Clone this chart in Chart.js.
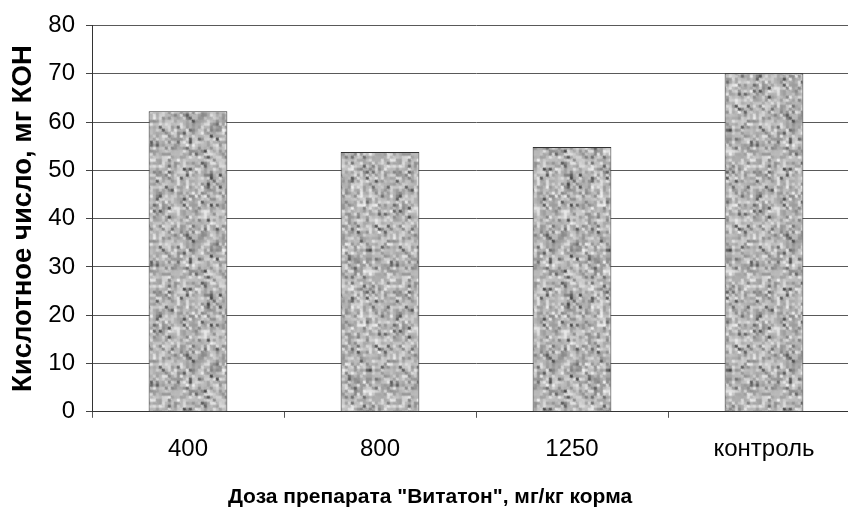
<!DOCTYPE html>
<html>
<head>
<meta charset="utf-8">
<script src="https://cdn.jsdelivr.net/npm/chart.js@4/dist/chart.umd.min.js"></script>
<style>
  html, body { margin: 0; padding: 0; background: #fff; overflow: hidden; }
  #wrap { width: 870px; height: 512px; position: relative; }
</style>
</head>
<body>
<div id="wrap"><canvas id="c" width="870" height="512"></canvas></div>
<script>
// Acid number of the fat by dose of the preparation
const categories = ['400', '800', '1250', 'контроль'];
const acidNumber = [62.2, 53.8, 54.8, 70.1];
const yTicks = [0, 10, 20, 30, 40, 50, 60, 70, 80];
const yTitle = 'Кислотное число, мг КОН';
const xTitle = 'Доза препарата "Витатон", мг/кг корма';

// Grainy grey fill for the bars (seeded so every render is identical)
function grainPattern(ctx) {
  const size = 120, cell = 3;
  let a = 20240611;
  const rnd = () => {
    a |= 0; a = (a + 0x6D2B79F5) | 0;
    let t = Math.imul(a ^ (a >>> 15), 1 | a);
    t = (t + Math.imul(t ^ (t >>> 7), 61 | t)) ^ t;
    return ((t ^ (t >>> 14)) >>> 0) / 4294967296;
  };
  const off = document.createElement('canvas');
  off.width = size; off.height = size;
  const g = off.getContext('2d');
  for (let y = 0; y < size; y += cell) {
    for (let x = 0; x < size; x += cell) {
      const r = (rnd() + rnd()) / 2;
      let v = Math.round(125 + r * 120);
      if (rnd() < 0.05) v = 70 + Math.round(rnd() * 45);
      v = Math.min(240, v);
      g.fillStyle = `rgb(${v},${v},${v})`;
      g.fillRect(x, y, cell, cell);
    }
  }
  // soften the grain a little, wrapping around the tile edges
  const soft = document.createElement('canvas');
  soft.width = size; soft.height = size;
  const sg = soft.getContext('2d');
  sg.drawImage(off, 0, 0);
  sg.globalAlpha = 0.3;
  for (const [dx, dy] of [[1, 1], [-1, 0], [0, -1]]) {
    for (const ox of [0, size, -size]) {
      for (const oy of [0, size, -size]) sg.drawImage(off, dx + ox, dy + oy);
    }
  }
  return ctx.createPattern(soft, 'repeat');
}

const canvas = document.getElementById('c');
const ctx = canvas.getContext('2d');
const FONT = "'Liberation Sans', Arial, sans-serif";

new Chart(ctx, {
  type: 'bar',
  data: {
    labels: categories,
    datasets: [{
      data: acidNumber,
      backgroundColor: grainPattern(ctx),
      borderColor: '#333',
      borderWidth: 1,
      borderSkipped: 'bottom',
      barPercentage: 0.41,
      categoryPercentage: 1.0
    }]
  },
  options: {
    responsive: false,
    animation: false,
    layout: { padding: { top: 18, right: 10, left: 0, bottom: 2 } },
    plugins: {
      legend: { display: false },
      tooltip: { enabled: false },
      title: {
        display: true,
        position: 'bottom',
        text: xTitle,
        color: '#000',
        font: { family: FONT, size: 21, weight: 'bold' },
        padding: { top: 15, bottom: 0 }
      }
    },
    scales: {
      x: {
        offset: true,
        afterFit: (scale) => { scale.height = 58; },
        grid: { offset: true, drawOnChartArea: false, tickLength: 6, color: '#555', tickColor: '#555' },
        border: { color: '#333', width: 1 },
        ticks: { color: '#000', font: { family: FONT, size: 24 }, padding: 17, maxRotation: 0 }
      },
      y: {
        min: 0, max: 80,
        afterBuildTicks: (scale) => { scale.ticks = yTicks.map(v => ({ value: v })); },
        afterFit: (scale) => { scale.width = 92; },
        grid: { color: '#595959', lineWidth: 1, tickLength: 6, tickColor: '#444' },
        border: { color: '#333', width: 1 },
        ticks: { color: '#000', font: { family: FONT, size: 24 }, padding: 11 },
        title: {
          display: true,
          text: yTitle,
          color: '#000',
          font: { family: FONT, size: 27.5, weight: 'bold' },
          padding: { top: 7, bottom: 0 }
        }
      }
    }
  }
});
</script>
</body>
</html>
